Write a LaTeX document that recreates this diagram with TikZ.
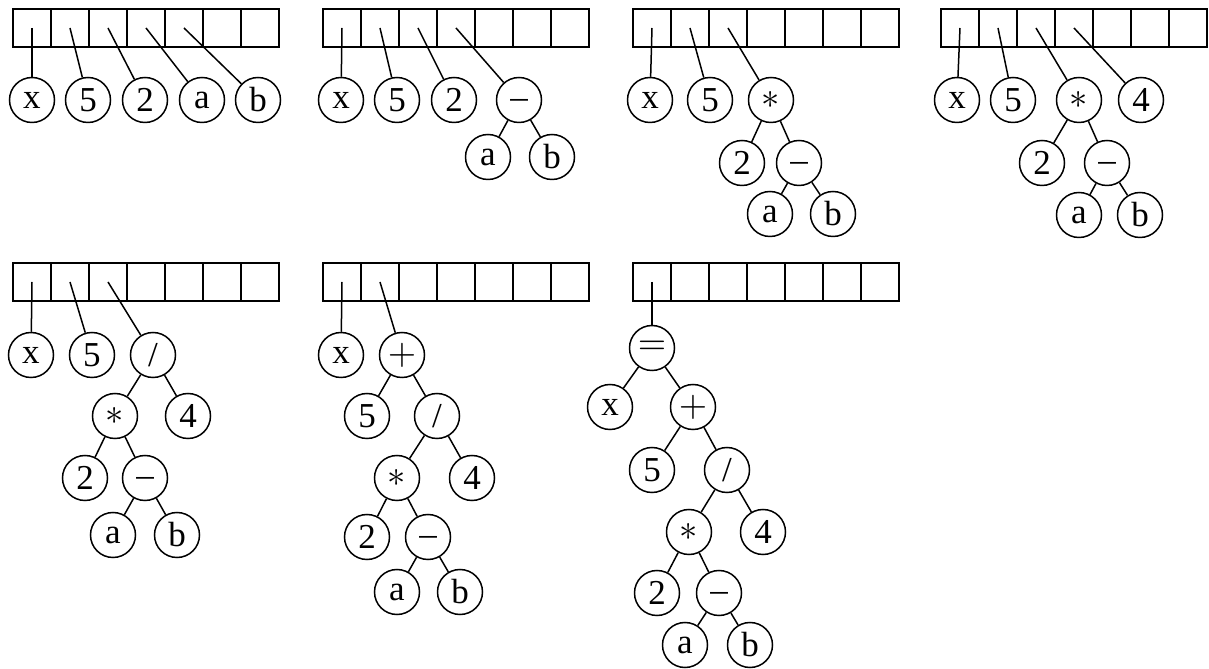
\documentclass[tikz,border=0pt]{standalone}
\usepackage{fontspec}
\setmainfont{Liberation Serif}
\usepackage{tikz}
\usetikzlibrary{positioning}
\tikzset{
  cell/.style={draw,minimum size=11.4pt,inner sep=0pt,line width=.45pt},
  term/.style={circle,draw,minimum size=13.5pt,inner sep=0pt,line width=.45pt,font=\fontsize{10.5}{12}\selectfont},
  link/.style={line width=.45pt},
}
% seven stack slots, named #1c1 ... #1c7
\newcommand{\slots}[3]{%
  \foreach \i in {1,...,7}
    \node[cell] (#1c\i) at ({#2+38*\i-19},{#3+19}) {};
}
\newcommand{\minussign}{\smash{\raisebox{-2.5pt}{–}}}

\begin{document}
\begin{tikzpicture}[x=0.3pt,y=-0.3pt]
  \useasboundingbox (0,0) rectangle (1209,669);

  % step 1
  \slots{p1}{13}{9}
  \node[term] (p1x) at (32,100) {x};
  \node[term] (p1n5) at (88,100) {5};
  \node[term] (p1n2) at (145,100) {2};
  \node[term] (p1a) at (202,100) {a};
  \node[term] (p1b) at (258,100) {b};
  \draw[link] (p1c1.center)--(p1x); \draw[link] (p1c2.center)--(p1n5);
  \draw[link] (p1c3.center)--(p1n2); \draw[link] (p1c4.center)--(p1a);
  \draw[link] (p1c5.center)--(p1b);

  % step 2
  \slots{p2}{323}{9}
  \node[term] (p2x) at (341,100) {x};
  \node[term] (p2n5) at (397,100) {5};
  \node[term] (p2n2) at (454,100) {2};
  \node[term] (p2min) at (519,100) {\minussign};
  \node[term] (p2a) at (488,157) {a};
  \node[term] (p2b) at (552,157) {b};
  \draw[link] (p2c1.center)--(p2x); \draw[link] (p2c2.center)--(p2n5);
  \draw[link] (p2c3.center)--(p2n2); \draw[link] (p2c4.center)--(p2min);
  \draw[link] (p2min)--(p2a); \draw[link] (p2min)--(p2b);

  % step 3
  \slots{p3}{633}{9}
  \node[term] (p3x) at (650,100) {x};
  \node[term] (p3n5) at (710,100) {5};
  \node[term] (p3mul) at (771,100) {$\ast$};
  \node[term] (p3n2) at (742,163) {2};
  \node[term] (p3min) at (799,163) {\minussign};
  \node[term] (p3a) at (770,214) {a};
  \node[term] (p3b) at (833,214) {b};
  \draw[link] (p3c1.center)--(p3x); \draw[link] (p3c2.center)--(p3n5);
  \draw[link] (p3c3.center)--(p3mul);
  \draw[link] (p3mul)--(p3n2); \draw[link] (p3mul)--(p3min);
  \draw[link] (p3min)--(p3a); \draw[link] (p3min)--(p3b);

  % step 4
  \slots{p4}{941}{9}
  \node[term] (p4x) at (957,100) {x};
  \node[term] (p4n5) at (1013,100) {5};
  \node[term] (p4mul) at (1079,100) {$\ast$};
  \node[term] (p4n4) at (1141,100) {4};
  \node[term] (p4n2) at (1042,163) {2};
  \node[term] (p4min) at (1107,163) {\minussign};
  \node[term] (p4a) at (1079,215) {a};
  \node[term] (p4b) at (1140,215) {b};
  \draw[link] (p4c1.center)--(p4x); \draw[link] (p4c2.center)--(p4n5);
  \draw[link] (p4c3.center)--(p4mul); \draw[link] (p4c4.center)--(p4n4);
  \draw[link] (p4mul)--(p4n2); \draw[link] (p4mul)--(p4min);
  \draw[link] (p4min)--(p4a); \draw[link] (p4min)--(p4b);

  % step 5
  \slots{p5}{13}{263}
  \node[term] (p5x) at (31,355) {x};
  \node[term] (p5n5) at (92,355) {5};
  \node[term] (p5div) at (153,355) {/};
  \node[term] (p5mul) at (115,416) {$\ast$};
  \node[term] (p5n4) at (188,416) {4};
  \node[term] (p5n2) at (85,478) {2};
  \node[term] (p5min) at (145,478) {\minussign};
  \node[term] (p5a) at (113,535) {a};
  \node[term] (p5b) at (177,535) {b};
  \draw[link] (p5c1.center)--(p5x); \draw[link] (p5c2.center)--(p5n5);
  \draw[link] (p5c3.center)--(p5div);
  \draw[link] (p5div)--(p5mul); \draw[link] (p5div)--(p5n4);
  \draw[link] (p5mul)--(p5n2); \draw[link] (p5mul)--(p5min);
  \draw[link] (p5min)--(p5a); \draw[link] (p5min)--(p5b);

  % step 6
  \slots{p6}{323}{263}
  \node[term] (p6x) at (341,355) {x};
  \node[term] (p6add) at (402,355) {$+$};
  \node[term] (p6n5) at (367,416) {5};
  \node[term] (p6div) at (437,416) {/};
  \node[term] (p6mul) at (397,478) {$\ast$};
  \node[term] (p6n4) at (472,478) {4};
  \node[term] (p6n2) at (367,537) {2};
  \node[term] (p6min) at (428,537) {\minussign};
  \node[term] (p6a) at (397,592) {a};
  \node[term] (p6b) at (460,592) {b};
  \draw[link] (p6c1.center)--(p6x); \draw[link] (p6c2.center)--(p6add);
  \draw[link] (p6add)--(p6n5); \draw[link] (p6add)--(p6div);
  \draw[link] (p6div)--(p6mul); \draw[link] (p6div)--(p6n4);
  \draw[link] (p6mul)--(p6n2); \draw[link] (p6mul)--(p6min);
  \draw[link] (p6min)--(p6a); \draw[link] (p6min)--(p6b);

  % step 7
  \slots{p7}{633}{263}
  \node[term] (p7eq) at (652,348) {$=$};
  \node[term] (p7x) at (610,407) {x};
  \node[term] (p7add) at (693,407) {$+$};
  \node[term] (p7n5) at (652,470) {5};
  \node[term] (p7div) at (727,470) {/};
  \node[term] (p7mul) at (689,532) {$\ast$};
  \node[term] (p7n4) at (763,532) {4};
  \node[term] (p7n2) at (657,593) {2};
  \node[term] (p7min) at (719,593) {\minussign};
  \node[term] (p7a) at (685,645) {a};
  \node[term] (p7b) at (750,645) {b};
  \draw[link] (p7c1.center)--(p7eq);
  \draw[link] (p7eq)--(p7x); \draw[link] (p7eq)--(p7add);
  \draw[link] (p7add)--(p7n5); \draw[link] (p7add)--(p7div);
  \draw[link] (p7div)--(p7mul); \draw[link] (p7div)--(p7n4);
  \draw[link] (p7mul)--(p7n2); \draw[link] (p7mul)--(p7min);
  \draw[link] (p7min)--(p7a); \draw[link] (p7min)--(p7b);
\end{tikzpicture}
\end{document}
